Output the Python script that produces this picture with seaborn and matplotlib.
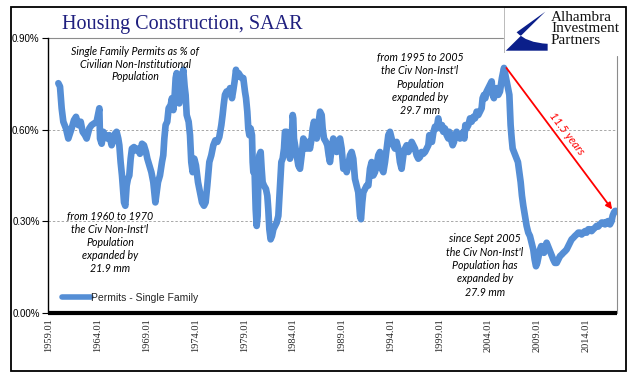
import matplotlib
matplotlib.use("Agg")
import matplotlib.pyplot as plt
import matplotlib.patches as mpatches
from matplotlib.path import Path
import pandas as pd
import seaborn as sns

# ---------------- data ----------------
series_name = "Permits - Single Family"
title = "Housing Construction, SAAR"

dates = [
    1959.96, 1960.13, 1960.30, 1960.47, 1960.74, 1960.98, 1961.32, 1961.56, 1961.77, 1962.01,
    1962.25, 1962.45, 1962.69, 1962.86, 1963.13, 1963.37, 1963.88, 1964.16, 1964.23, 1964.40,
    1964.57, 1964.74, 1964.98, 1965.18, 1965.42, 1965.59, 1965.76, 1965.93, 1966.10, 1966.21,
    1966.34, 1966.48, 1966.69, 1966.82, 1966.96, 1967.09, 1967.23, 1967.37, 1967.50, 1967.71,
    1967.91, 1968.12, 1968.32, 1968.53, 1968.73, 1968.94, 1969.08, 1969.28, 1969.49, 1969.69,
    1969.90, 1970.03, 1970.17, 1970.37, 1970.58, 1970.71, 1970.82, 1970.95, 1971.12, 1971.26,
    1971.47, 1971.60, 1971.74, 1971.88, 1971.98, 1972.08, 1972.22, 1972.35, 1972.49, 1972.63,
    1972.76, 1972.90, 1973.00, 1973.11, 1973.31, 1973.45, 1973.58, 1973.72, 1973.89, 1974.06,
    1974.27, 1974.47, 1974.68, 1974.88, 1975.05, 1975.22, 1975.43, 1975.63, 1975.84, 1976.04,
    1976.25, 1976.45, 1976.66, 1976.79, 1976.90, 1977.03, 1977.20, 1977.37, 1977.55, 1977.75,
    1977.89, 1978.02, 1978.16, 1978.30, 1978.43,
    1978.74, 1978.91, 1979.08, 1979.19, 1979.32, 1979.42, 1979.53, 1979.66, 1979.80, 1979.87,
    1979.94, 1980.07, 1980.18, 1980.28, 1980.38, 1980.48, 1980.55, 1980.69, 1980.79, 1980.89,
    1981.03, 1981.23, 1981.37, 1981.47, 1981.58, 1981.71, 1981.85, 1981.99, 1982.16, 1982.33,
    1982.50, 1982.67, 1982.81, 1982.94, 1983.08, 1983.18, 1983.35, 1983.52, 1983.69, 1983.86,
    1983.97, 1984.03, 1984.10, 1984.21, 1984.38, 1984.55, 1984.72, 1984.89, 1985.06, 1985.23,
    1985.40, 1985.57, 1985.74, 1985.91, 1986.02, 1986.15, 1986.29, 1986.43, 1986.60, 1986.77,
    1986.94, 1987.04, 1987.18, 1987.38, 1987.52, 1987.66, 1987.79, 1987.96, 1988.13, 1988.30,
    1988.47, 1988.65, 1988.82, 1988.99, 1989.16, 1989.33, 1989.50, 1989.67, 1989.84, 1990.01,
    1990.18, 1990.35, 1990.52, 1990.69, 1990.87, 1990.97, 1991.10, 1991.21, 1991.38, 1991.55,
    1991.72, 1991.89, 1992.06, 1992.23, 1992.40, 1992.57, 1992.74, 1992.91, 1993.09, 1993.26,
    1993.43, 1993.60, 1993.77, 1993.94, 1994.11, 1994.28, 1994.45, 1994.62, 1994.79, 1994.96,
    1995.13, 1995.31, 1995.48, 1995.65, 1995.82, 1995.99, 1996.16, 1996.33, 1996.50, 1996.67,
    1996.84, 1997.01, 1997.18, 1997.35, 1997.53, 1997.70, 1997.87, 1997.97, 1998.11, 1998.24,
    1998.38, 1998.55,
    1998.72, 1998.89, 1998.99, 1999.13, 1999.27, 1999.40, 1999.57, 1999.75, 1999.92, 2000.02,
    2000.16, 2000.26, 2000.36, 2000.50, 2000.60, 2000.77, 2000.94, 2001.11, 2001.28, 2001.45,
    2001.56, 2001.66, 2001.79, 2001.97, 2002.14, 2002.31, 2002.48, 2002.65, 2002.82, 2002.99,
    2003.16, 2003.33, 2003.43, 2003.57, 2003.71, 2003.84, 2004.01, 2004.18, 2004.36, 2004.46,
    2004.59, 2004.73, 2004.87, 2005.04, 2005.21, 2005.31, 2005.41, 2005.55, 2005.62, 2005.76,
    2005.89, 2006.03, 2006.17, 2006.23, 2006.30, 2006.41, 2006.51, 2006.64, 2006.78, 2006.92,
    2007.05, 2007.19, 2007.33, 2007.46, 2007.60, 2007.77, 2007.94, 2008.11, 2008.28, 2008.45,
    2008.62, 2008.76, 2008.90, 2009.03, 2009.17, 2009.31, 2009.44, 2009.58, 2009.72, 2009.85,
    2009.99, 2010.13, 2010.26, 2010.40, 2010.54, 2010.67, 2010.84, 2011.02, 2011.19, 2011.36,
    2011.53, 2011.70, 2011.87, 2012.04, 2012.21, 2012.38, 2012.55, 2012.72, 2012.89, 2013.06,
    2013.24, 2013.41, 2013.58, 2013.75, 2013.92, 2014.09, 2014.26, 2014.43, 2014.60, 2014.77,
    2014.94, 2015.11, 2015.28, 2015.46, 2015.63, 2015.80, 2015.97, 2016.14, 2016.31, 2016.48,
    2016.65, 2016.75, 2016.89, 2017.00, 2017.10,
]

permits_pct = [
    0.752, 0.741, 0.670, 0.626, 0.604, 0.571, 0.604, 0.631, 0.642, 0.615,
    0.626, 0.593, 0.582, 0.571, 0.604, 0.615, 0.626, 0.670, 0.571, 0.554,
    0.593, 0.582, 0.571, 0.582, 0.549, 0.565, 0.587, 0.593, 0.571, 0.549,
    0.494, 0.450, 0.362, 0.351, 0.417, 0.439, 0.450, 0.505, 0.538, 0.543,
    0.532, 0.538, 0.521, 0.554, 0.549, 0.527, 0.505, 0.483, 0.461, 0.428,
    0.362, 0.395, 0.428, 0.450, 0.494, 0.516, 0.571, 0.615, 0.626, 0.670,
    0.681, 0.703, 0.664, 0.714, 0.769, 0.785, 0.714, 0.686, 0.736, 0.774,
    0.796, 0.741, 0.714, 0.648, 0.626, 0.582, 0.494, 0.461, 0.505, 0.483,
    0.428, 0.395, 0.362, 0.351, 0.362, 0.417, 0.494, 0.516, 0.549, 0.565,
    0.560, 0.576, 0.615, 0.648, 0.681, 0.714, 0.725, 0.719, 0.736, 0.703,
    0.730, 0.758, 0.796, 0.774, 0.785,
    0.769, 0.769, 0.725, 0.703, 0.659, 0.604, 0.582, 0.604, 0.582, 0.494,
    0.461, 0.461, 0.340, 0.285, 0.318, 0.472, 0.516, 0.527, 0.472, 0.428,
    0.417, 0.406, 0.384, 0.340, 0.274, 0.241, 0.252, 0.274, 0.285, 0.296,
    0.318, 0.417, 0.494, 0.505, 0.538, 0.593, 0.593, 0.560, 0.505, 0.549,
    0.648, 0.637, 0.571, 0.549, 0.516, 0.483, 0.472, 0.516, 0.571, 0.560,
    0.538, 0.560, 0.538, 0.571, 0.604, 0.626, 0.604, 0.571, 0.615, 0.659,
    0.648, 0.604, 0.571, 0.560, 0.549, 0.516, 0.494, 0.538, 0.571, 0.560,
    0.527, 0.560, 0.571, 0.538, 0.472, 0.483, 0.461, 0.483, 0.516, 0.527,
    0.505, 0.439, 0.417, 0.395, 0.318, 0.307, 0.362, 0.395, 0.406, 0.417,
    0.417, 0.472, 0.494, 0.450, 0.461, 0.483, 0.516, 0.527, 0.472, 0.461,
    0.494, 0.538, 0.582, 0.593, 0.571, 0.549, 0.538, 0.560, 0.538, 0.494,
    0.472, 0.516, 0.538, 0.549, 0.527, 0.538, 0.560, 0.549, 0.538, 0.516,
    0.505, 0.510, 0.527, 0.521, 0.527, 0.538, 0.549, 0.582, 0.571, 0.560,
    0.590, 0.610,
    0.604, 0.637, 0.615, 0.604, 0.615, 0.593, 0.604, 0.582, 0.571, 0.593,
    0.582, 0.560, 0.549, 0.560, 0.582, 0.593, 0.582, 0.571, 0.582, 0.593,
    0.571, 0.615, 0.604, 0.615, 0.637, 0.626, 0.642, 0.637, 0.659, 0.648,
    0.659, 0.670, 0.703, 0.714, 0.703, 0.725, 0.736, 0.747, 0.758, 0.714,
    0.703, 0.725, 0.736, 0.714, 0.725, 0.747, 0.769, 0.791, 0.802, 0.780,
    0.758, 0.736, 0.714, 0.670, 0.615, 0.571, 0.538, 0.527, 0.516, 0.505,
    0.494, 0.461, 0.428, 0.384, 0.351, 0.318, 0.285, 0.263, 0.252, 0.230,
    0.208, 0.175, 0.153, 0.164, 0.186, 0.208, 0.219, 0.208, 0.197, 0.219,
    0.230, 0.219, 0.208, 0.197, 0.186, 0.175, 0.164, 0.164, 0.175, 0.186,
    0.191, 0.197, 0.202, 0.208, 0.219, 0.230, 0.241, 0.246, 0.252, 0.257,
    0.263, 0.263, 0.257, 0.263, 0.268, 0.263, 0.274, 0.274, 0.268, 0.274,
    0.279, 0.285, 0.283, 0.290, 0.296, 0.296, 0.290, 0.298, 0.301, 0.290,
    0.301, 0.318, 0.329, 0.334, 0.334,
]

y_ticks = [0.0, 0.3, 0.6, 0.9]
x_tick_years = [1959, 1964, 1969, 1974, 1979, 1984, 1989, 1994, 1999, 2004, 2009, 2014]
x_tick_labels = [f"{y}.01" for y in x_tick_years]

note_top = "Single Family Permits as % of\nCivilian Non-Institutional\nPopulation"
note_1960 = "from 1960 to 1970\nthe Civ Non-Inst'l\nPopulation\nexpanded by\n21.9 mm"
note_1995 = "from 1995 to 2005\nthe Civ Non-Inst'l\nPopulation\nexpanded by\n29.7 mm"
note_2005 = "since Sept 2005\nthe Civ Non-Inst'l\nPopulation has\nexpanded by\n27.9 mm"
arrow_label = "11.5 years"
logo_text = "Alhambra\nInvestment\nPartners"

assert len(dates) == len(permits_pct)

# ---------------- figure ----------------
sns.set_style("white")
plt.rcParams["font.family"] = ["Liberation Sans", "DejaVu Sans"]

W, H = 641, 381
fig = plt.figure(figsize=(W / 100, H / 100), dpi=100)
fig.patch.set_facecolor("white")

def fx(px):
    return px / W

def fy(py):
    return 1 - py / H

L, R, T, B = 48, 617, 38, 313
ax = fig.add_axes([fx(L), fy(B), (R - L) / W, (B - T) / H])

df = pd.DataFrame({"date": dates, "value": permits_pct})
line_color = "#558ED5"
sns.lineplot(data=df, x="date", y="value", ax=ax, color=line_color, lw=4.8,
             label=series_name, solid_capstyle="round", solid_joinstyle="round",
             zorder=3)

ax.set_xlim(1958.9, 2017.2)
ax.set_ylim(0, 0.9)
ax.set_xlabel("")
ax.set_ylabel("")

# spines
ax.spines["top"].set_visible(False)
ax.spines["right"].set_visible(False)
ax.spines["left"].set_color("black")
ax.spines["left"].set_linewidth(1.0)
ax.spines["bottom"].set_color("black")
ax.spines["bottom"].set_linewidth(3.0)
ax.spines["bottom"].set_capstyle("butt")

# gray partial plot-area border (top & right)
ax.plot([0, 0.80], [1, 1], transform=ax.transAxes, color="#8c8c8c", lw=0.8,
        clip_on=False, zorder=1)
ax.plot([1, 1], [0, 0.935], transform=ax.transAxes, color="#8c8c8c", lw=0.8,
        clip_on=False, zorder=1)

# dashed gridlines
for v in y_ticks[1:-1]:
    ax.axhline(v, color="#a8a8a8", lw=0.7, ls=(0, (2.5, 2)), zorder=1)

# ticks
ax.set_yticks(y_ticks)
ax.set_yticklabels([f"{v:.2f}%" for v in y_ticks])
ax.tick_params(axis="y", direction="out", length=4, width=0.8, pad=2,
               labelsize=7, left=True, colors="black")
ax.set_xticks(x_tick_years)
ax.set_xticklabels(x_tick_labels, rotation=90, fontfamily="Liberation Serif",
                   fontsize=7.5)
ax.tick_params(axis="x", length=0, pad=4)

# legend
leg = ax.legend(loc="center left", bbox_to_anchor=((62 - L) / (R - L), (B - 298) / (B - T)),
                frameon=False, handlelength=2.8, handletextpad=0.0, borderpad=0,
                borderaxespad=0, prop={"family": "Liberation Sans", "size": 7.5})
for h in leg.get_lines():
    h.set_linewidth(4.0)
    h.set_solid_capstyle("round")

# arrow from the peak to the latest value
imax = max(range(len(permits_pct)), key=lambda i: permits_pct[i])
start = (dates[imax] + 0.25, permits_pct[imax])
end = (dates[-1] - 0.4, permits_pct[-1] + 0.005)
ax.annotate("", xy=end, xytext=start,
            arrowprops=dict(arrowstyle="-|>", color="red", lw=1.3,
                            mutation_scale=9, shrinkA=0, shrinkB=0), zorder=4)

# texts
note_kw = dict(ha="center", va="center", family="Lato", style="italic",
               size=7.7, color="black", linespacing=1.25)
fig.text(fx(135), fy(64), note_top, **{**note_kw, "linespacing": 1.17})
fig.text(fx(110), fy(242.5), note_1960, **note_kw)
fig.text(fx(420), fy(84), note_1995, **note_kw)
fig.text(fx(485), fy(265.5), note_2005, **note_kw)
fig.text(fx(567), fy(134), arrow_label, ha="center", va="center", rotation=-52.5,
         rotation_mode="anchor", family="Lato", style="italic", size=8.2, color="red")

fig.text(fx(182), fy(24), title, ha="center", va="center",
         family="Liberation Serif", size=14.5, color="#1F1F7F")

# logo
lax = fig.add_axes([fx(504), fy(53), 45 / W, 46 / H])
lax.set_xlim(0, 1)
lax.set_ylim(0, 1)
lax.axis("off")
lax.add_patch(mpatches.Rectangle((0.01, 0.01), 0.98, 0.98, facecolor="white",
                                 edgecolor="#b0b0b0", lw=0.6))
verts = [(0.92, 0.90), (0.04, 0.05), (0.97, 0.05), (0.97, 0.20),
         (0.50, 0.22), (0.28, 0.45), (0.92, 0.90)]
codes = [Path.MOVETO, Path.LINETO, Path.LINETO, Path.LINETO,
         Path.CURVE3, Path.CURVE3, Path.LINETO]
lax.add_patch(mpatches.PathPatch(Path(verts, codes), facecolor="#0B1F8A",
                                 edgecolor="none"))
fig.text(fx(551), fy(29), logo_text, ha="left", va="center",
         family="Liberation Serif", size=11, linespacing=0.88, color="#111111")

# outer frame
fig.patches.append(mpatches.Rectangle((fx(11), fy(371)), (626 - 11) / W, (371 - 7) / H,
                                      transform=fig.transFigure, fill=False,
                                      edgecolor="black", lw=1.3))

fig.savefig("out.png", dpi=100, facecolor="white")
